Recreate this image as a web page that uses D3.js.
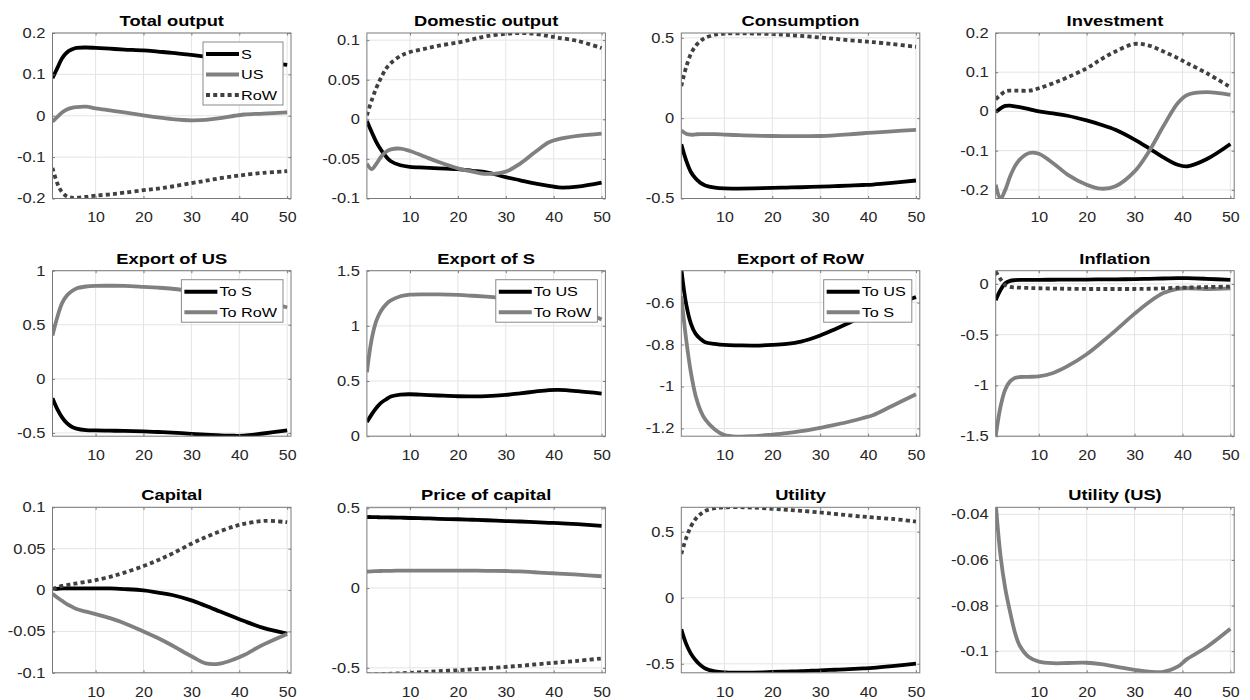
<!DOCTYPE html>
<html><head><meta charset="utf-8">
<script src="https://cdn.jsdelivr.net/npm/d3@7"></script>
<style>
body{margin:0;background:#fff;}
text{font-family:Arial,"Liberation Sans",Helvetica,sans-serif;}
</style>
</head><body>
<svg id="c" width="1250" height="700"></svg>
<script>
// ---------------- DATA ----------------
const periods = [1,2,3,4,5,6,8,10,13,16,20,23,26,30,33,36,39,41,45,50];
const xTicks = [10,20,30,40,50];

const titles = ["Total output","Domestic output","Consumption","Investment",
  "Export of US","Export of S","Export of RoW","Inflation",
  "Capital","Price of capital","Utility","Utility (US)"];

// Total output
const totOutS   = [0.091,0.115,0.139,0.153,0.160,0.164,0.165,0.164,0.162,0.160,0.158,0.155,0.152,0.147,0.143,0.139,0.136,0.134,0.129,0.123];
const totOutUS  = [-0.014,-0.003,0.008,0.015,0.019,0.021,0.022,0.018,0.013,0.008,0.001,-0.004,-0.008,-0.011,-0.010,-0.006,0.000,0.003,0.005,0.008];
const totOutRoW = [-0.126,-0.163,-0.185,-0.195,-0.198,-0.198,-0.196,-0.193,-0.190,-0.186,-0.180,-0.176,-0.171,-0.163,-0.157,-0.151,-0.146,-0.143,-0.138,-0.134];
// Domestic output
const domOutS   = [-0.002,-0.016,-0.029,-0.039,-0.047,-0.053,-0.058,-0.060,-0.061,-0.062,-0.063,-0.065,-0.067,-0.073,-0.077,-0.081,-0.084,-0.086,-0.085,-0.080];
const domOutUS  = [-0.056,-0.063,-0.056,-0.047,-0.041,-0.038,-0.037,-0.040,-0.047,-0.054,-0.062,-0.066,-0.069,-0.066,-0.056,-0.042,-0.029,-0.025,-0.021,-0.018];
const domOutRoW = [0.005,0.024,0.040,0.053,0.064,0.071,0.080,0.085,0.089,0.093,0.097,0.101,0.105,0.108,0.109,0.108,0.105,0.103,0.099,0.090];
// Consumption
const consS   = [-0.163,-0.262,-0.335,-0.376,-0.403,-0.419,-0.432,-0.437,-0.438,-0.437,-0.434,-0.432,-0.430,-0.426,-0.423,-0.420,-0.416,-0.413,-0.403,-0.388];
const consUS  = [-0.076,-0.097,-0.103,-0.101,-0.099,-0.099,-0.099,-0.102,-0.106,-0.109,-0.111,-0.112,-0.112,-0.111,-0.107,-0.101,-0.094,-0.090,-0.082,-0.073];
const consRoW = [0.200,0.316,0.400,0.450,0.480,0.500,0.519,0.527,0.528,0.527,0.523,0.518,0.512,0.502,0.494,0.485,0.478,0.473,0.461,0.444];
// Investment
const invS   = [-0.002,0.008,0.014,0.015,0.013,0.011,0.006,0.000,-0.005,-0.011,-0.023,-0.034,-0.047,-0.072,-0.094,-0.117,-0.136,-0.140,-0.122,-0.083];
const invUS  = [-0.187,-0.223,-0.200,-0.166,-0.140,-0.123,-0.106,-0.108,-0.132,-0.161,-0.187,-0.197,-0.191,-0.153,-0.102,-0.038,0.021,0.042,0.049,0.042];
const invRoW = [0.031,0.042,0.051,0.053,0.053,0.053,0.053,0.059,0.072,0.087,0.110,0.133,0.153,0.172,0.168,0.153,0.136,0.123,0.098,0.062];
// Export of US
const expUStoS   = [-0.180,-0.280,-0.356,-0.410,-0.443,-0.460,-0.474,-0.477,-0.479,-0.481,-0.486,-0.491,-0.497,-0.508,-0.515,-0.522,-0.526,-0.525,-0.505,-0.477];
const expUStoRoW = [0.400,0.570,0.700,0.770,0.810,0.836,0.854,0.860,0.861,0.860,0.851,0.843,0.833,0.814,0.800,0.785,0.765,0.752,0.720,0.660];
// Export of S
const expStoUS  = [0.128,0.198,0.258,0.304,0.334,0.359,0.377,0.380,0.375,0.369,0.362,0.361,0.363,0.374,0.388,0.404,0.418,0.420,0.408,0.386];
const expStoRoW = [0.580,0.880,1.050,1.140,1.195,1.230,1.268,1.283,1.286,1.285,1.280,1.273,1.265,1.252,1.240,1.225,1.205,1.190,1.150,1.058];
// Export of RoW
const expRoWtoUS = [-0.440,-0.605,-0.700,-0.749,-0.773,-0.789,-0.797,-0.802,-0.804,-0.805,-0.802,-0.797,-0.786,-0.757,-0.728,-0.697,-0.665,-0.648,-0.615,-0.573];
const expRoWtoS  = [-0.570,-0.773,-0.933,-1.045,-1.114,-1.157,-1.205,-1.232,-1.239,-1.237,-1.229,-1.222,-1.213,-1.197,-1.183,-1.168,-1.150,-1.137,-1.093,-1.037];
// Inflation
const inflS   = [-0.160,-0.060,0.007,0.030,0.037,0.040,0.040,0.040,0.041,0.042,0.043,0.044,0.045,0.047,0.050,0.053,0.056,0.056,0.050,0.040];
const inflUS  = [-1.500,-1.210,-1.040,-0.960,-0.927,-0.917,-0.915,-0.910,-0.877,-0.810,-0.693,-0.580,-0.460,-0.293,-0.180,-0.090,-0.048,-0.043,-0.050,-0.045];
const inflRoW = [0.123,0.047,-0.010,-0.030,-0.035,-0.037,-0.040,-0.043,-0.046,-0.048,-0.050,-0.050,-0.050,-0.050,-0.048,-0.044,-0.038,-0.036,-0.031,-0.027];
// Capital
const capS   = [0.001,0.0015,0.002,0.002,0.002,0.002,0.002,0.002,0.002,0.0012,-0.0004,-0.003,-0.006,-0.0125,-0.019,-0.026,-0.033,-0.0375,-0.0457,-0.0525];
const capUS  = [-0.0044,-0.009,-0.013,-0.017,-0.020,-0.023,-0.026,-0.029,-0.034,-0.040,-0.050,-0.058,-0.067,-0.080,-0.0886,-0.0888,-0.0835,-0.0785,-0.066,-0.053];
const capRoW = [0.0016,0.003,0.005,0.006,0.007,0.008,0.010,0.012,0.016,0.021,0.029,0.036,0.044,0.056,0.064,0.071,0.077,0.080,0.0836,0.082];
// Price of capital
const pkS   = [0.445,0.445,0.444,0.443,0.443,0.442,0.441,0.439,0.437,0.434,0.431,0.428,0.425,0.420,0.417,0.413,0.409,0.407,0.400,0.389];
const pkUS  = [0.103,0.105,0.106,0.107,0.108,0.108,0.109,0.109,0.109,0.109,0.109,0.109,0.108,0.107,0.104,0.099,0.094,0.091,0.084,0.074];
const pkRoW = [-0.542,-0.541,-0.540,-0.539,-0.538,-0.537,-0.534,-0.531,-0.526,-0.521,-0.515,-0.509,-0.503,-0.494,-0.487,-0.479,-0.471,-0.466,-0.456,-0.441];
// Utility
const utilS   = [-0.238,-0.347,-0.423,-0.473,-0.510,-0.535,-0.557,-0.565,-0.567,-0.566,-0.562,-0.559,-0.556,-0.549,-0.545,-0.540,-0.535,-0.531,-0.518,-0.499];
const utilRoW = [0.332,0.450,0.539,0.597,0.633,0.658,0.678,0.685,0.686,0.683,0.673,0.666,0.658,0.646,0.635,0.624,0.614,0.608,0.597,0.577];
// Utility (US)
const utilUS = [-0.035,-0.058,-0.0726,-0.0828,-0.0917,-0.0975,-0.1027,-0.1046,-0.1053,-0.1052,-0.1051,-0.1057,-0.1068,-0.1082,-0.1090,-0.1091,-0.1068,-0.1034,-0.0983,-0.0902];

// y-axis limits and ticks
const yLimits = [[-0.2,0.2],[-0.1,0.109],[-0.5,0.53],[-0.222,0.2],
                 [-0.53,1],[0,1.5],[-1.237,-0.448],[-1.5,0.13],
                 [-0.1,0.1],[-0.531,0.506],[-0.568,0.685],[-0.1095,-0.0369]];
const yTicks = [[-0.2,-0.1,0,0.1,0.2],[-0.1,-0.05,0,0.05,0.1],[-0.5,0,0.5],[-0.2,-0.1,0,0.1,0.2],
                [-0.5,0,0.5,1],[0,0.5,1,1.5],[-1.2,-1,-0.8,-0.6],[-1.5,-1,-0.5,0],
                [-0.1,-0.05,0,0.05,0.1],[-0.5,0,0.5],[-0.5,0,0.5],[-0.1,-0.08,-0.06,-0.04]];

const legendCountries = ["S","US","RoW"];
const legendExpUS  = ["To S","To RoW"];
const legendExpS   = ["To US","To RoW"];
const legendExpRoW = ["To US","To S"];

// ---------------- STYLES ----------------
const styles = {
  black: {stroke:"#000000", dash:null},
  gray:  {stroke:"#808080", dash:null},
  dot:   {stroke:"#404040", dash:"4,3.2"}
};

const panels = [
  {series:[[totOutS,"black"],[totOutUS,"gray"],[totOutRoW,"dot"]], legend:legendCountries},
  {series:[[domOutS,"black"],[domOutUS,"gray"],[domOutRoW,"dot"]]},
  {series:[[consS,"black"],[consUS,"gray"],[consRoW,"dot"]]},
  {series:[[invS,"black"],[invUS,"gray"],[invRoW,"dot"]]},
  {series:[[expUStoS,"black"],[expUStoRoW,"gray"]], legend:legendExpUS},
  {series:[[expStoUS,"black"],[expStoRoW,"gray"]], legend:legendExpS},
  {series:[[expRoWtoUS,"black"],[expRoWtoS,"gray"]], legend:legendExpRoW},
  {series:[[inflS,"black"],[inflUS,"gray"],[inflRoW,"dot"]]},
  {series:[[capS,"black"],[capUS,"gray"],[capRoW,"dot"]]},
  {series:[[pkS,"black"],[pkUS,"gray"],[pkRoW,"dot"]]},
  {series:[[utilS,"black"],[utilRoW,"dot"]]},
  {series:[[utilUS,"gray"]]}
];

// ---------------- LAYOUT ----------------
const svg = d3.select("#c");
const colLeft = 52.5, colStep = 314.4, W = 238.5;
const rowTops = [33, 270.7, 507.3], H = 165.5;
const axisColor = "#7a7a7a", gridColor = "#e4e4e4", labelColor = "#262626";
const tickLen = 2.5;

const fmt = v => String(+v.toFixed(4));
function stretch(sel, k) {
  sel.each(function () {
    const L = this.getComputedTextLength();
    d3.select(this).attr("textLength", L * k).attr("lengthAdjust", "spacingAndGlyphs");
  });
}

panels.forEach((p, i) => {
  const r = Math.floor(i / 4), c = i % 4;
  const L = colLeft + c * colStep, T = rowTops[r];
  const g = svg.append("g").attr("transform", `translate(${L},${T})`);
  const x = d3.scaleLinear().domain([1, 50.8]).range([0, W]);
  const y = d3.scaleLinear().domain(yLimits[i]).range([H, 0]);

  // grid
  g.append("g").selectAll("line").data(xTicks).join("line")
    .attr("x1", d => x(d)).attr("x2", d => x(d)).attr("y1", 0).attr("y2", H)
    .attr("stroke", gridColor).attr("stroke-width", 1);
  g.append("g").selectAll("line").data(yTicks[i]).join("line")
    .attr("x1", 0).attr("x2", W).attr("y1", d => y(d)).attr("y2", d => y(d))
    .attr("stroke", gridColor).attr("stroke-width", 1);

  // clip
  const cid = "clip" + i;
  g.append("clipPath").attr("id", cid).append("rect")
    .attr("x", 0).attr("y", 0).attr("width", W).attr("height", H);

  // lines
  const line = d3.line().x((d, k) => x(periods[k])).y(d => y(d)).curve(d3.curveCatmullRom.alpha(0.5));
  const lg = g.append("g").attr("clip-path", `url(#${cid})`);
  p.series.forEach(([vals, st]) => {
    const s = styles[st];
    lg.append("path").datum(vals).attr("d", line)
      .attr("fill", "none").attr("stroke", s.stroke).attr("stroke-width", 3.8)
      .attr("stroke-dasharray", s.dash).attr("stroke-linejoin", "round");
  });

  // axes (MATLAB-like box with inward ticks)
  const xAxB = d3.axisBottom(x).tickValues(xTicks).tickSize(-tickLen).tickPadding(14).tickFormat(fmt);
  const yAxL = d3.axisLeft(y).tickValues(yTicks[i]).tickSize(-tickLen).tickPadding(7).tickFormat(fmt);
  const xAxT = d3.axisTop(x).tickValues(xTicks).tickSize(-tickLen).tickFormat("");
  const yAxR = d3.axisRight(y).tickValues(yTicks[i]).tickSize(-tickLen).tickFormat("");
  const ax = [
    g.append("g").attr("transform", `translate(0,${H})`).call(xAxB),
    g.append("g").call(yAxL),
    g.append("g").call(xAxT),
    g.append("g").attr("transform", `translate(${W},0)`).call(yAxR)
  ];
  ax.forEach(a => {
    a.select(".domain").attr("d", null);
    a.selectAll(".tick line").attr("stroke", axisColor);
    a.selectAll(".tick text").attr("fill", labelColor).style("font-size", "14px")
      .style("font-family", "Arial, 'Liberation Sans', sans-serif");
  });
  stretch(ax[0].selectAll(".tick text"), 1.14);
  stretch(ax[1].selectAll(".tick text"), 1.18);
  g.append("rect").attr("x", 0).attr("y", 0).attr("width", W).attr("height", H)
    .attr("fill", "none").attr("stroke", axisColor).attr("stroke-width", 1);

  // title
  const tt = g.append("text").attr("x", W / 2).attr("y", -7).attr("text-anchor", "middle")
    .style("font-size", "15px").style("font-weight", "bold").attr("fill", "#000")
    .text(titles[i]);
  stretch(tt, 1.22);

  // legend
  if (p.legend) {
    const fs = 13.5, rowH = 20.5;
    const leg = g.append("g");
    const texts = [];
    const lineLen = 33;
    p.legend.forEach((lab, k) => {
      const t = leg.append("text").attr("x", 38).attr("y", 12 + k * rowH)
        .attr("dy", "0.35em").style("font-size", fs + "px").attr("fill", "#000").text(lab);
      texts.push(t);
    });
    texts.forEach(t => stretch(t, 1.2));
    const maxW = d3.max(texts, t => +t.attr("textLength"));
    const bw = 38 + maxW + 6, bh = 12 + (p.legend.length - 1) * rowH + 10;
    leg.insert("rect", ":first-child").attr("x", 0).attr("y", 0).attr("width", bw).attr("height", bh)
      .attr("fill", "#fff").attr("stroke", "#8a8a8a").attr("stroke-width", 1);
    p.legend.forEach((lab, k) => {
      const s = styles[p.series[k][1]];
      leg.append("line").attr("x1", 3).attr("x2", 3 + lineLen)
        .attr("y1", 12 + k * rowH).attr("y2", 12 + k * rowH)
        .attr("stroke", s.stroke).attr("stroke-width", 4).attr("stroke-dasharray", s.dash);
    });
    leg.attr("transform", `translate(${W - 8 - bw},9)`);
  }
});
</script>
</body></html>
